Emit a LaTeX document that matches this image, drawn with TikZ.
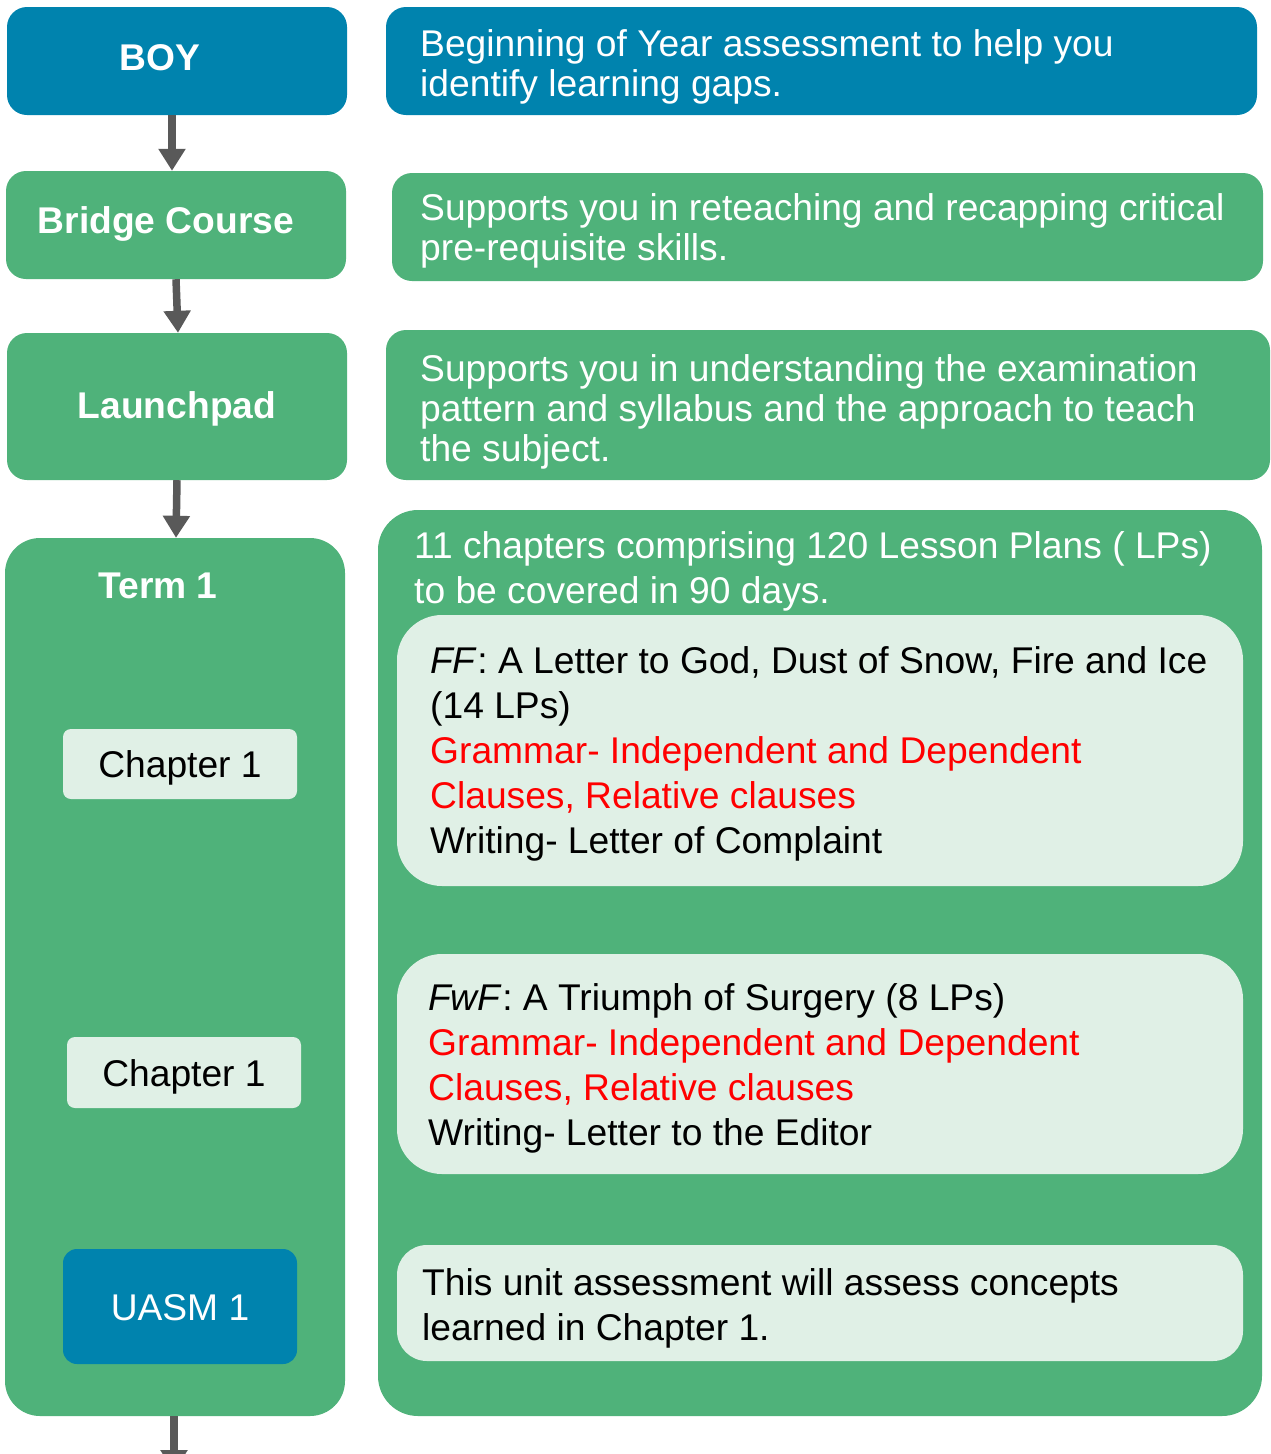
\documentclass[tikz,border=0pt]{standalone}
\usepackage{fontspec}
\setmainfont{Liberation Sans}
\usetikzlibrary{arrows.meta}
\definecolor{blu}{HTML}{0083AE}
\definecolor{grn}{HTML}{4FB27A}
\definecolor{lgt}{HTML}{E0F0E6}
\definecolor{arr}{HTML}{595959}
\definecolor{rd}{HTML}{FF0000}
\begin{document}
\begin{tikzpicture}[x=1pt,y=-1pt,
  box/.style={rectangle, inner sep=0pt, rounded corners=20pt},
  lbl/.style={font=\fontsize{37.2}{44}\selectfont\bfseries, text=white, inner sep=0pt},
  chtxt/.style={font=\fontsize{37.2}{44}\selectfont, inner sep=0pt},
  desc/.style={anchor=north west, align=left, inner sep=0pt, text=white, font=\fontsize{37.2}{40}\selectfont},
  descb/.style={anchor=north west, align=left, inner sep=0pt, font=\fontsize{37.2}{45}\selectfont},
  conn/.style={draw=arr, line width=7.5pt, -{Triangle[width=26pt,length=22pt]}}]
\useasboundingbox (0,0) rectangle (1270,1454);
% left column
\node[box, fill=blu, minimum width=340pt, minimum height=108pt] (boy) at (177,61) {};
\node[lbl] (boyt) at (160,58) {BOY};
\node[box, fill=grn, minimum width=340pt, minimum height=108pt] (bridge) at (176,225) {};
\node[lbl] (bridget) at (166,224) {Bridge Course};
\node[box, fill=grn, minimum width=340pt, minimum height=147pt] (launch) at (177,406.5) {};
\node[lbl] (launcht) at (177,409) {Launchpad};
\node[box, fill=grn, rounded corners=35pt, minimum width=340pt, minimum height=878pt] (term) at (175,977) {};
\node[lbl] (termt) at (158,586) {Term 1};
\node[box, fill=lgt, rounded corners=8pt, minimum width=234pt, minimum height=70pt] (cha) at (180,764) {};
\node[chtxt] (chat) at (180,768) {Chapter 1};
\node[box, fill=lgt, rounded corners=8pt, minimum width=234pt, minimum height=71pt] (chb) at (184,1072.5) {};
\node[chtxt] (chbt) at (184,1077) {Chapter 1};
\node[box, fill=blu, rounded corners=14pt, minimum width=234pt, minimum height=115pt] (uasm) at (180,1306.5) {};
\node[chtxt, text=white] (uasmt) at (180,1308) {UASM 1};
% right column
\node[box, fill=blu, minimum width=871pt, minimum height=108pt] (boyd) at (821.5,61) {};
\node[desc] (boydt) at (420,29) {Beginning of Year assessment to help you\\identify learning gaps.};
\node[box, fill=grn, minimum width=871pt, minimum height=108pt] (bridged) at (827.5,227) {};
\node[desc] (bridgedt) at (420,193) {Supports you in reteaching and recapping critical\\pre-requisite skills.};
\node[box, fill=grn, minimum width=884pt, minimum height=150pt] (launchd) at (828,405) {};
\node[desc] (launchdt) at (420,354) {Supports you in understanding the examination\\pattern and syllabus and the approach to teach\\the subject.};
\node[box, fill=grn, rounded corners=40pt, minimum width=884pt, minimum height=906pt] (termd) at (820,963) {};
\node[descb, text=white] (termdt) at (414,531) {11 chapters comprising 120 Lesson Plans ( LPs)\\to be covered in 90 days.};
\node[box, fill=lgt, rounded corners=45pt, minimum width=846pt, minimum height=271pt] (in1) at (820,750.5) {};
\node[descb] (in1t) at (430,646) {\textit{FF}: A Letter to God, Dust of Snow, Fire and Ice\\(14 LPs)\\\textcolor{rd}{Grammar- Independent and Dependent}\\\textcolor{rd}{Clauses, Relative clauses}\\Writing- Letter of Complaint};
\node[box, fill=lgt, rounded corners=45pt, minimum width=846pt, minimum height=220pt] (in2) at (820,1064) {};
\node[descb] (in2t) at (428,983) {\textit{FwF}: A Triumph of Surgery (8 LPs)\\\textcolor{rd}{Grammar- Independent and Dependent}\\\textcolor{rd}{Clauses, Relative clauses}\\Writing- Letter to the Editor};
\node[box, fill=lgt, rounded corners=30pt, minimum width=846pt, minimum height=116pt] (in3) at (820,1303) {};
\node[descb] (in3t) at (422,1268) {This unit assessment will assess concepts\\learned in Chapter 1.};
% connectors
\coordinate (endpt) at (174,1472);
\draw[conn] ([xshift=-5pt]boy.south) -- ([xshift=-4pt]bridge.north);
\draw[conn] ([xshift=0pt]bridge.south) -- ([xshift=1pt]launch.north);
\draw[conn] ([xshift=0pt]launch.south) -- ([xshift=1pt]term.north);
\draw[conn] ([xshift=-1pt]term.south) -- (endpt);
\end{tikzpicture}
\end{document}
